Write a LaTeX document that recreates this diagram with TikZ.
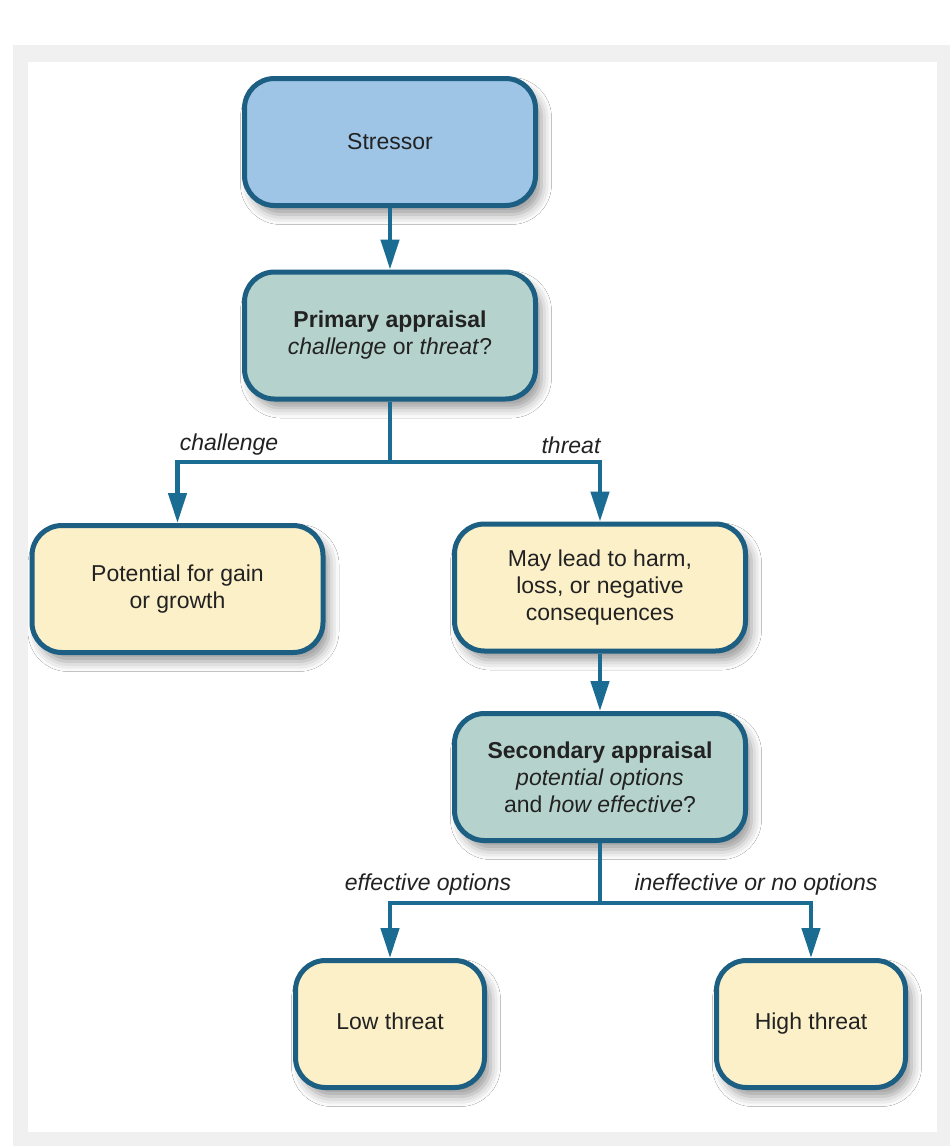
\documentclass[tikz,border=0pt]{standalone}
\usepackage{fontspec}
\setmainfont{Liberation Sans}
\usetikzlibrary{arrows.meta,shadows.blur}

\definecolor{frameband}{HTML}{F0F0F0}
\definecolor{edgeblue}{HTML}{1C5F82}
\definecolor{linkblue}{HTML}{1B6C93}
\definecolor{stressfill}{HTML}{9EC5E6}
\definecolor{appraisefill}{HTML}{B5D3CC}
\definecolor{outcomefill}{HTML}{FCF0C9}
\definecolor{inktext}{HTML}{222222}

\tikzset{
  box/.style={draw=edgeblue, line width=5pt, rounded corners=30pt,
    minimum width=291pt, minimum height=127pt, align=center,
    text=inktext, font=\fontsize{23}{27}\selectfont,
    blur shadow={shadow xshift=6pt, shadow yshift=-9pt,
      shadow blur radius=10pt, shadow opacity=40}},
  smallbox/.style={box, minimum width=189pt},
  link/.style={draw=linkblue, line width=4.5pt},
  arr/.style={link, -{Triangle[width=18pt,length=30pt]}},
  branchlabel/.style={text=inktext, font=\fontsize{23}{27}\selectfont\itshape,
    inner sep=0pt}
}

\begin{document}
\begin{tikzpicture}[x=1pt, y=-1pt]
  \useasboundingbox (0,0) rectangle (950,1146);
  % frame band around the figure
  \fill[frameband] (13,45) rectangle (950,1146);
  \fill[white] (28,62) rectangle (937,1132);

  % boxes
  \node[box, fill=stressfill] (stressor) at (390,142) {Stressor};
  \node[box, fill=appraisefill] (primary) at (390,335.5)
    {\textbf{Primary appraisal}\\\textit{challenge} or \textit{threat}?};
  \node[box, fill=outcomefill] (potential) at (177.5,589)
    {Potential for gain\\or growth};
  \node[box, fill=outcomefill] (maylead) at (600,587.5)
    {May lead to harm,\\loss, or negative\\consequences};
  \node[box, fill=appraisefill] (secondary) at (600,777)
    {\textbf{Secondary appraisal}\\\textit{potential options}\\and \textit{how effective}?};
  \node[smallbox, fill=outcomefill] (low) at (390,1024) {Low threat\vphantom{g}};
  \node[smallbox, fill=outcomefill] (high) at (811,1024) {High threat};

  % branch points
  \coordinate (split1) at (390,462);
  \coordinate (split2) at (600,903);

  % connectors
  \draw[arr] (stressor.south) -- (primary.north);
  \draw[link] (primary.south) -- (split1);
  \draw[arr] (split1) -| (potential.north);
  \draw[arr] (split1) -| (maylead.north);
  \draw[arr] (maylead.south) -- (secondary.north);
  \draw[link] (secondary.south) -- (split2);
  \draw[arr] (split2) -| (low.north);
  \draw[arr] (split2) -| (high.north);

  % branch labels
  \node[branchlabel] (lblchallenge) at (229,445) {challenge};
  \node[branchlabel] (lblthreat) at (571,445) {threat};
  \node[branchlabel] (lbleffective) at (428,885) {effective options};
  \node[branchlabel] (lblineffective) at (756,885) {ineffective or no options};
\end{tikzpicture}
\end{document}
